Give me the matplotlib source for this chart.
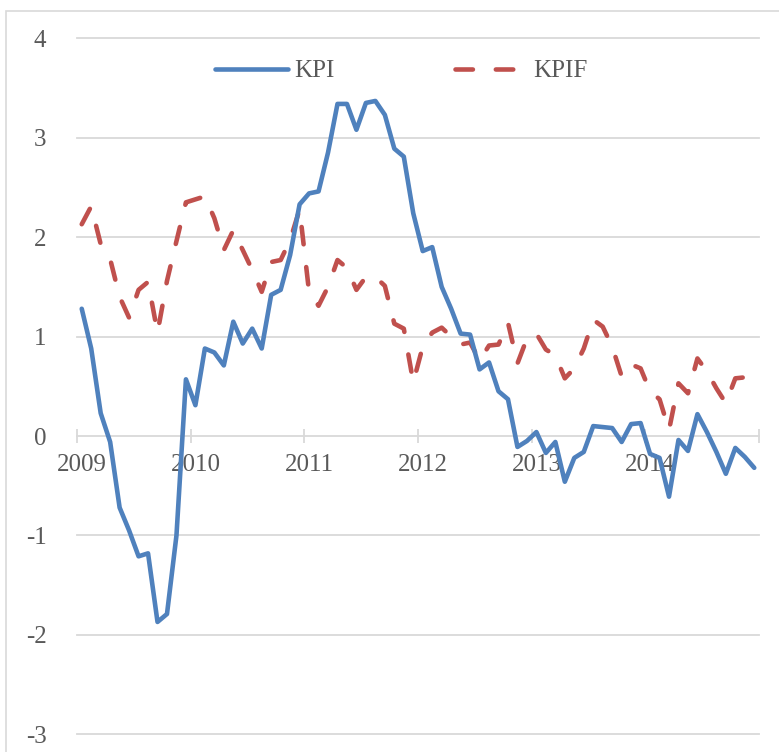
"""KPI vs KPIF, monthly inflation 2009-2014 (line chart, Excel-like style)."""

import matplotlib

matplotlib.use("Agg")
import matplotlib.pyplot as plt
import numpy as np
from matplotlib.patches import Rectangle

# monthly values, Jan 2009 .. Dec 2014
years = [2009, 2010, 2011, 2012, 2013, 2014]

kpi = [
    1.28, 0.88, 0.23, -0.06, -0.72, -0.95, -1.21, -1.18, -1.87, -1.79, -1.00, 0.57,
    0.31, 0.88, 0.84, 0.71, 1.15, 0.93, 1.08, 0.88, 1.42, 1.47, 1.82, 2.33,
    2.44, 2.46, 2.85, 3.34, 3.34, 3.08, 3.35, 3.37, 3.23, 2.89, 2.81, 2.24,
    1.86, 1.90, 1.50, 1.28, 1.03, 1.02, 0.67, 0.74, 0.45, 0.37, -0.11, -0.05,
    0.04, -0.17, -0.06, -0.46, -0.22, -0.16, 0.10, 0.09, 0.08, -0.06, 0.12, 0.13,
    -0.18, -0.22, -0.61, -0.04, -0.15, 0.22, 0.04, -0.16, -0.38, -0.12, -0.21, -0.32,
]

kpif = [
    2.13, 2.31, 1.93, 1.78, 1.40, 1.19, 1.47, 1.55, 1.04, 1.56, 1.96, 2.35,
    2.38, 2.41, 2.19, 1.87, 2.07, 1.87, 1.67, 1.45, 1.75, 1.77, 1.97, 2.28,
    1.45, 1.31, 1.50, 1.77, 1.69, 1.47, 1.60, 1.60, 1.51, 1.13, 1.08, 0.54,
    0.90, 1.04, 1.09, 1.00, 0.92, 0.94, 0.76, 0.91, 0.92, 1.14, 0.73, 0.98,
    1.03, 0.87, 0.81, 0.58, 0.68, 0.88, 1.17, 1.10, 0.90, 0.60, 0.72, 0.68,
    0.45, 0.37, 0.06, 0.53, 0.43, 0.78, 0.65, 0.48, 0.33, 0.58, 0.59, 0.55,
]

y_ticks = [-3, -2, -1, 0, 1, 2, 3, 4]

BLUE = "#4F81BD"
RED = "#C0504D"
GRID = "#D9D9D9"
TXT = "#595959"
FONT = "Liberation Serif"


def main() -> None:
    fig = plt.figure(figsize=(7.79, 7.52), dpi=100, facecolor="white")
    ax = fig.add_axes([77 / 779, 1 - 734.3 / 752, 682 / 779, (734.3 - 38.3) / 752])

    # chart-area frame (cut off at right/bottom like the source)
    fig.patches.append(Rectangle((6 / 779, -0.05), 1.1, 1 - 11 / 752 + 0.05,
                                 transform=fig.transFigure, fill=False,
                                 edgecolor=GRID, linewidth=1.2))

    x = np.arange(len(kpi))
    n = len(kpi)

    for yv in y_ticks:
        if yv != 0:
            ax.axhline(yv, color=GRID, linewidth=1.3, zorder=0, clip_on=False)

    ax.plot(x, kpi, color=BLUE, linewidth=3.3, solid_joinstyle="round",
            solid_capstyle="round", label="KPI", zorder=3)
    ax.plot(x, kpif, color=RED, linewidth=3.3, dashes=(3.8, 5.0),
            dash_capstyle="round", dash_joinstyle="round", label="KPIF", zorder=2)

    ax.set_xlim(-0.5, n - 0.5)
    ax.set_ylim(-3, 4)

    for side in ("left", "right", "top"):
        ax.spines[side].set_visible(False)
    ax.spines["bottom"].set_position(("data", 0))
    ax.spines["bottom"].set_color(GRID)
    ax.spines["bottom"].set_linewidth(1.3)
    ax.spines["bottom"].set_zorder(0)

    # year boundaries as cross ticks, year labels at first month
    ax.set_xticks(np.arange(-0.5, n, 12))
    ax.set_xticklabels([])
    ax.tick_params(axis="x", which="major", direction="inout", length=10,
                   width=1.3, color=GRID)
    ax.set_xticks(np.arange(0, n, 12), minor=True)
    ax.set_xticklabels([str(yr) for yr in years], minor=True)
    ax.tick_params(axis="x", which="minor", length=0, pad=13, labelsize=18,
                   labelcolor=TXT)

    ax.set_yticks(y_ticks)
    ax.set_yticklabels([str(v) for v in y_ticks])
    ax.tick_params(axis="y", length=0, pad=22, labelsize=18, labelcolor=TXT)

    for lab in ax.get_xticklabels(minor=True) + ax.get_yticklabels():
        lab.set_fontfamily(FONT)

    ax.legend(loc="center", bbox_to_anchor=(401.5 / 779, 1 - 71 / 752),
              bbox_transform=fig.transFigure, ncol=2, frameon=False,
              handlelength=2.9, handletextpad=0.25, columnspacing=4.8,
              prop={"family": FONT, "size": 18}, labelcolor=TXT)

    fig.savefig("out.png", dpi=100, facecolor="white")
    plt.close(fig)


if __name__ == "__main__":
    main()
